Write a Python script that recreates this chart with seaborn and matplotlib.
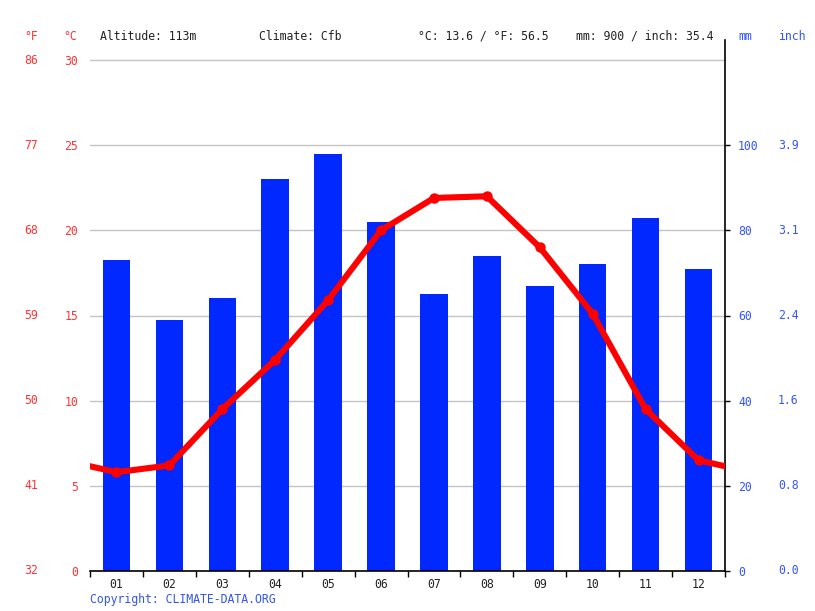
#!/usr/bin/env python3
"""Climate chart: monthly precipitation bars and mean temperature line"""

## imports ##
import matplotlib
matplotlib.use("Agg")
import matplotlib.pyplot as plt
import matplotlib.transforms as mtransforms
from matplotlib.ticker import FixedLocator
import seaborn as sns

sns.set_style("white")
plt.rcParams["font.family"] = ["DejaVu Sans Mono", "DejaVu Sans"]
plt.rcParams["font.size"] = 8.3

## data ##
months = ["01", "02", "03", "04", "05", "06", "07", "08", "09", "10", "11", "12"]
precip_mm = [73, 59, 64, 92, 98, 82, 65, 74, 67, 72, 83, 71]
temp_c = [5.8, 6.2, 9.5, 12.4, 15.9, 20.0, 21.9, 22.0, 19.0, 15.1, 9.5, 6.5]

c_ticks = [0, 5, 10, 15, 20, 25, 30]
f_labels = ["32", "41", "50", "59", "68", "77", "86"]
mm_ticks = [0, 20, 40, 60, 80, 100]
inch_labels = ["0.0", "0.8", "1.6", "2.4", "3.1", "3.9"]

header = [("°F", 31, "center", "#ff3333"),
          ("°C", 70, "center", "#ff3333"),
          ("Altitude: 113m", 100, "left", "#222222"),
          ("Climate: Cfb", 259, "left", "#222222"),
          ("°C: 13.6 / °F: 56.5", 418, "left", "#222222"),
          ("mm: 900 / inch: 35.4", 576, "left", "#222222"),
          ("mm", 745, "center", "#3355ff"),
          ("inch", 792, "center", "#3355ff")]

red = "#ff0000"
blue = "#0028ff"
label_red = "#ff3333"
label_blue = "#3355ff"
grid_grey = "#c4c4c4"

W, H = 815, 611
fig = plt.figure(figsize=(W / 100, H / 100), dpi=100)
# plot area: x 90..725, y 40 (spine top) .. 571
ax = fig.add_axes([90 / W, (H - 571) / H, 635 / W, 531 / H])
top_c = 30 * 531 / 511
top_mm = top_c * 4

# precipitation bars on the primary axes
sns.barplot(x=months, y=precip_mm, color=blue, saturation=1, width=0.52,
            linewidth=0, ax=ax, zorder=2)
ax.set_xlim(-0.5, 11.5)
ax.set_ylim(0, top_mm)

# temperature on a twin axes
ax2 = ax.twinx()
ax2.set_ylim(0, top_c)
wrap_x = [-1] + list(range(12)) + [12]
wrap_t = [temp_c[-1]] + temp_c + [temp_c[0]]
sns.lineplot(x=wrap_x, y=wrap_t, color=red, linewidth=4.4, marker="o",
             markersize=7.5, markeredgewidth=0, ax=ax2, zorder=3)
ax2.set_xlim(-0.5, 11.5)

# right axis: mm ticks; gridlines every 5 degC (=20 mm)
ax.yaxis.tick_right()
ax.set_yticks(mm_ticks)
ax.set_yticklabels([str(v) for v in mm_ticks])
ax.tick_params(axis="y", which="major", right=True, left=False, length=3.6,
               width=1, color="black", pad=5.8, labelcolor=label_blue)
ax.grid(axis="y", color=grid_grey, linewidth=1, zorder=0)
ax.axhline(120, color=grid_grey, linewidth=1, zorder=0)
ax.set_axisbelow(True)

# x axis: labels at month centres, ticks on month boundaries
ax.set_xticks(range(12))
ax.set_xticklabels(months)
ax.xaxis.set_minor_locator(FixedLocator([i - 0.5 for i in range(13)]))
ax.tick_params(axis="x", which="major", length=0, pad=5, labelcolor="#222222")
ax.tick_params(axis="x", which="minor", bottom=True, length=4.3, width=1,
               color="black")
ax.set_xlabel("")
ax.set_ylabel("")

for side in ["left", "top"]:
    ax.spines[side].set_visible(False)
for side in ["bottom", "right"]:
    ax.spines[side].set_color("black")
    ax.spines[side].set_linewidth(1.2)

# left axis: degC labels, no tick marks
ax2.yaxis.tick_left()
ax2.set_yticks(c_ticks)
ax2.set_yticklabels([str(v) for v in c_ticks])
ax2.tick_params(axis="y", length=0, pad=8.6, labelcolor=label_red)
ax2.set_ylabel("")
for side in ax2.spines:
    ax2.spines[side].set_visible(False)

# degF column and inch column
trans_f = mtransforms.blended_transform_factory(fig.transFigure, ax2.transData)
for c, f in zip(c_ticks, f_labels):
    fig.text(31 / W, c, f, transform=trans_f, ha="center", va="center",
             color=label_red)
trans_in = mtransforms.blended_transform_factory(fig.transFigure, ax.transData)
for m, inch in zip(mm_ticks, inch_labels):
    fig.text(778 / W, m, inch, transform=trans_in, ha="left", va="center",
             color=label_blue)

# header line
for txt, x, ha, col in header:
    fig.text(x / W, 1 - 36 / H, txt, ha=ha, va="center", color=col)

fig.text(90 / W, 1 - 599 / H, "Copyright: CLIMATE-DATA.ORG", ha="left",
         va="center", color="#3355ee")

fig.savefig("out.png", dpi=100)
